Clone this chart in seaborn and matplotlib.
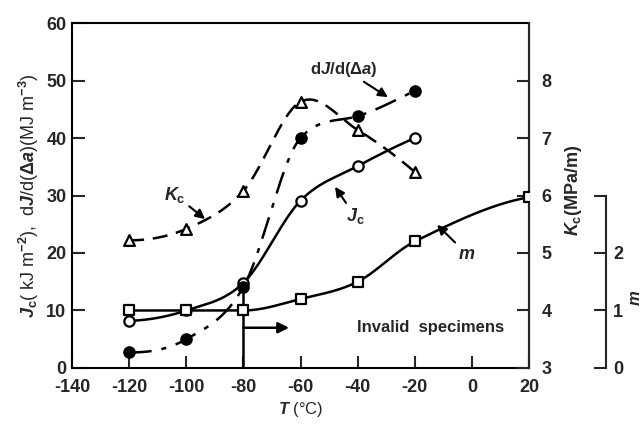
import numpy as np
import pandas as pd
import matplotlib
matplotlib.use("Agg")
import matplotlib.pyplot as plt
import seaborn as sns

# ---- data ----
temps = [-120, -100, -80, -60, -40, -20]
jc_vals = [8.2, 10.0, 14.8, 29.1, 35.1, 40.0]          # kJ m^-2
djda_vals = [2.7, 5.0, 14.1, 40.0, 43.8, 48.2]         # MJ m^-3
kc_vals = [5.22, 5.42, 6.08, 7.63, 7.14, 6.41]         # MPa sqrt(m)
m_temps = [-120, -100, -80, -60, -40, -20, 20]
m_vals = [1.0, 1.0, 1.0, 1.2, 1.5, 2.2, 2.97]

x_ticks = [-140, -120, -100, -80, -60, -40, -20, 0, 20]
left_ticks = [0, 10, 20, 30, 40, 50, 60]
kc_ticks = [3, 4, 5, 6, 7, 8]
m_ticks = [0, 1, 2, 3]
m_ticklabels = ["0", "1", "2", ""]


def smooth(x, y, xs, monotone=False):
    """Cubic Hermite curve through the points (drawing aid only)."""
    x = np.asarray(x, float)
    y = np.asarray(y, float)
    n = len(x)
    h = np.diff(x)
    d = np.diff(y) / h
    t = np.zeros(n)
    for i in range(1, n - 1):
        t[i] = (y[i + 1] - y[i - 1]) / (x[i + 1] - x[i - 1])
    t0 = ((2 * h[0] + h[1]) * d[0] - h[0] * d[1]) / (h[0] + h[1])
    t[0] = t0 if np.sign(t0) == np.sign(d[0]) else 0.0
    tn = ((2 * h[-1] + h[-2]) * d[-1] - h[-1] * d[-2]) / (h[-1] + h[-2])
    t[-1] = tn if np.sign(tn) == np.sign(d[-1]) else 0.0
    if monotone:
        for k in range(n - 1):
            if d[k] == 0:
                t[k] = 0.0
                t[k + 1] = 0.0
                continue
            a = t[k] / d[k]
            b = t[k + 1] / d[k]
            if a < 0:
                t[k] = 0.0
                a = 0
            if b < 0:
                t[k + 1] = 0.0
                b = 0
            r = a * a + b * b
            if r > 9:
                s = 3 / np.sqrt(r)
                t[k] = s * a * d[k]
                t[k + 1] = s * b * d[k]
    idx = np.clip(np.searchsorted(x, xs) - 1, 0, n - 2)
    hh = h[idx]
    u = (xs - x[idx]) / hh
    h00 = 2 * u ** 3 - 3 * u ** 2 + 1
    h10 = u ** 3 - 2 * u ** 2 + u
    h01 = -2 * u ** 3 + 3 * u ** 2
    h11 = u ** 3 - u ** 2
    return (h00 * y[idx] + h10 * hh * t[idx] + h01 * y[idx + 1]
            + h11 * hh * t[idx + 1])


sns.set_style("ticks")
plt.rcParams["font.family"] = ["Liberation Sans", "DejaVu Sans"]
plt.rcParams["font.weight"] = "bold"
plt.rcParams["mathtext.fontset"] = "custom"
plt.rcParams["mathtext.rm"] = "Liberation Sans:bold"
plt.rcParams["mathtext.it"] = "Liberation Sans:italic:bold"
plt.rcParams["mathtext.bf"] = "Liberation Sans:bold"

FS = 12
TFS = 13
LW = 1.8

fig = plt.figure(figsize=(6.43, 4.25), dpi=100)
ax = fig.add_axes([0.11198, 0.13412, 0.71073, 0.81176])
ax_k = ax.twinx()
ax_m = ax.twinx()

# smooth curves
xs = np.linspace(temps[0], temps[-1], 300)
curve = pd.DataFrame({"T": xs,
                      "jc": smooth(temps, jc_vals, xs, monotone=True),
                      "dj": smooth(temps, djda_vals, xs, monotone=True),
                      "kc": smooth(temps, kc_vals, xs)})
xm = np.linspace(m_temps[0], m_temps[-1], 300)
m_curve = pd.DataFrame({"T": xm, "m": smooth(m_temps, m_vals, xm, monotone=True)})

sns.lineplot(data=curve, x="T", y="jc", ax=ax, color="black", lw=LW,
             estimator=None, sort=False, zorder=2)
sns.lineplot(data=curve, x="T", y="dj", ax=ax, color="black", lw=LW,
             estimator=None, sort=False, linestyle=(0, (9, 4, 2, 4)), zorder=2)
sns.lineplot(data=curve, x="T", y="kc", ax=ax_k, color="black", lw=LW,
             estimator=None, sort=False, linestyle=(0, (6, 3.5)), zorder=2)
sns.lineplot(data=m_curve, x="T", y="m", ax=ax_m, color="black", lw=LW,
             estimator=None, sort=False, zorder=2)

# vertical line + arrow at -80
ax.plot([-80, -80], [0, 13.5], color="black", lw=LW, zorder=1)
ax.annotate("", xy=(-64.0, 7.0), xytext=(-80, 7.0),
            arrowprops=dict(arrowstyle="-|>", color="black", lw=LW,
                            mutation_scale=16, shrinkA=0, shrinkB=0))

# markers
pts = pd.DataFrame({"T": temps, "jc": jc_vals, "dj": djda_vals, "kc": kc_vals})
mpts = pd.DataFrame({"T": m_temps, "m": m_vals})
sns.scatterplot(data=mpts, x="T", y="m", ax=ax_m, marker="s", s=60,
                facecolor="white", edgecolor="black", linewidth=1.6, zorder=4)
sns.scatterplot(data=pts, x="T", y="jc", ax=ax, marker="o", s=55,
                facecolor="white", edgecolor="black", linewidth=1.6, zorder=4)
sns.scatterplot(data=pts, x="T", y="dj", ax=ax, marker="o", s=65,
                facecolor="black", edgecolor="black", linewidth=1.0, zorder=4)
sns.scatterplot(data=pts, x="T", y="kc", ax=ax_k, marker="^", s=60,
                facecolor="white", edgecolor="black", linewidth=1.6, zorder=4)

# main axes
ax.set_xlim(-140, 20)
ax.set_ylim(0, 60)
ax.set_xticks(x_ticks)
ax.set_xticklabels([str(t) for t in x_ticks])
ax.set_yticks(left_ticks)
ax.tick_params(axis="both", direction="in", length=9, width=1.5,
               labelsize=TFS, top=False, right=False)
ax.tick_params(axis="x", pad=8)
ax.tick_params(axis="y", pad=4)
for s in ax.spines.values():
    s.set_linewidth(1.5)
    s.set_color("black")
ax.set_xlabel(r"$T$ (°C)", fontsize=FS, labelpad=3)
ax.set_ylabel(r"$J_{\rm c}$( kJ m$^{-2}$),  d$J$/d($\Delta a$)(MJ m$^{-3}$)",
              fontsize=13, labelpad=4)

# Kc axis
ax_k.set_ylim(3, 9)
ax_k.set_yticks(kc_ticks)
ax_k.set_yticklabels([str(t) for t in kc_ticks])
ax_k.tick_params(axis="y", direction="in", length=9, width=1.5, labelsize=TFS, pad=9)
for k in ["left", "top", "bottom"]:
    ax_k.spines[k].set_visible(False)
ax_k.spines["right"].set_linewidth(1.5)
ax_k.set_ylabel("")

# m axis
ax_m.set_ylim(0, 6)
ax_m.spines["right"].set_position(("axes", (606 - 72) / 457))
ax_m.spines["right"].set_bounds(0, 3)
ax_m.spines["right"].set_linewidth(1.5)
for k in ["left", "top", "bottom"]:
    ax_m.spines[k].set_visible(False)
ax_m.set_yticks(m_ticks)
ax_m.set_yticklabels(m_ticklabels)
ax_m.tick_params(axis="y", direction="in", length=9, width=1.5, labelsize=TFS, pad=5)
ax_m.set_ylabel("")

fig.text(573 / 643, 1 - 190 / 425, r"$K_{\rm c}$(MPa/m)", rotation=90,
         ha="center", va="center", fontsize=13)
fig.text(636 / 643, 1 - 298 / 425, r"$m$", rotation=90,
         ha="center", va="center", fontsize=FS)

# annotations
arrow = dict(arrowstyle="-|>", color="black", lw=1.5, mutation_scale=14,
             shrinkA=0, shrinkB=0)
ax.annotate(r"d$J$/d($\Delta a$)", xy=(-29.4, 47.1), xytext=(-44.8, 52.0),
            ha="center", va="center", fontsize=FS, arrowprops=arrow)
ax.annotate(r"$K_{\rm c}$", xy=(-93.4, 25.9), xytext=(-103.9, 30.1),
            ha="center", va="center", fontsize=FS + 1, arrowprops=arrow)
ax.annotate(r"$J_{\rm c}$", xy=(-47.9, 31.5), xytext=(-40.9, 26.4),
            ha="center", va="center", fontsize=FS + 1, arrowprops=arrow)
ax.annotate(r"$m$", xy=(-12.2, 24.9), xytext=(-1.7, 19.8),
            ha="center", va="center", fontsize=FS + 1, arrowprops=arrow)
ax.text(-14.6, 7.1, "Invalid  specimens", ha="center", va="center", fontsize=FS)

fig.savefig("out.png", dpi=100)
